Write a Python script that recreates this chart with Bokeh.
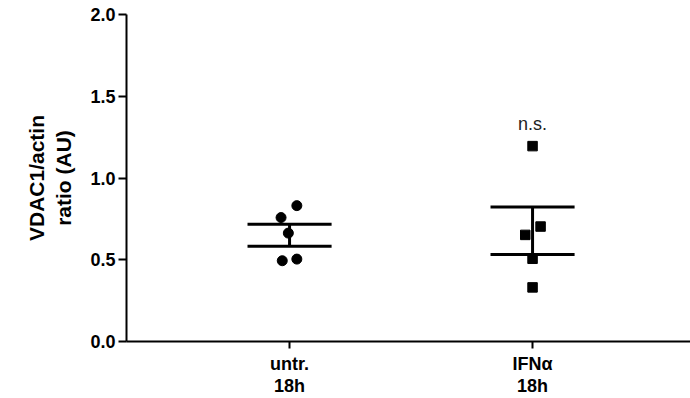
from bokeh.plotting import figure
from bokeh.models import FixedTicker, Range1d, Label
from bokeh.embed import file_html
from bokeh.resources import INLINE
import numpy as np

groups = ["untr.\n18h", "IFNα\n18h"]
group_pos = [1, 2]
untr_vals = [0.831, 0.758, 0.663, 0.494, 0.504]
untr_jit = [0.03, -0.035, -0.005, -0.03, 0.03]
ifn_vals = [1.195, 0.703, 0.652, 0.506, 0.331]
ifn_jit = [0.0, 0.033, -0.03, 0.0, 0.0]
y_ticks = [0.0, 0.5, 1.0, 1.5, 2.0]
annot_text = "n.s."
annot_y = 1.33

FONT = "Liberation Sans"

p = figure(width=690, height=398, output_backend="svg", toolbar_location=None,
           x_range=Range1d(0.329, 2.650), y_range=Range1d(0, 2.0),
           min_border_left=126, min_border_right=0, min_border_top=14, min_border_bottom=56)
p.outline_line_color = None
p.xgrid.visible = False
p.ygrid.visible = False

def sem(v):
    a = np.array(v)
    return a.std(ddof=1) / np.sqrt(len(a))

cap = 0.173
for xc, vals in zip(group_pos, [untr_vals, ifn_vals]):
    m = float(np.mean(vals)); s = float(sem(vals))
    p.segment(x0=[xc - cap, xc - cap, xc], y0=[m + s, m - s, m - s],
              x1=[xc + cap, xc + cap, xc], y1=[m + s, m - s, m + s],
              line_color="black", line_width=3)

p.scatter([group_pos[0] + j for j in untr_jit], untr_vals, marker="circle", size=10,
          fill_color="black", line_color="black")
p.scatter([group_pos[1] + j for j in ifn_jit], ifn_vals, marker="square", size=9.5,
          fill_color="black", line_color="black")

p.add_layout(Label(x=group_pos[1], y=annot_y, text=annot_text, text_align="center",
                   text_baseline="middle", text_font=FONT, text_font_size="18px",
                   text_color="#222222"))

for ax in (p.xaxis[0], p.yaxis[0]):
    ax.axis_line_width = 2
    ax.axis_line_color = "black"
    ax.major_tick_line_width = 2
    ax.major_tick_line_color = "black"
    ax.minor_tick_line_color = None
    ax.major_tick_in = 0
    ax.major_tick_out = 8
    ax.major_label_text_font = FONT
    ax.major_label_text_font_style = "bold"
    ax.major_label_text_font_size = "18px"
    ax.major_label_text_color = "black"

p.yaxis.ticker = FixedTicker(ticks=y_ticks)
p.yaxis.major_label_overrides = {t: f"{t:.1f}" for t in y_ticks}
p.yaxis.major_label_standoff = 3
p.yaxis.axis_label = "VDAC1/actin\nratio (AU)"
p.yaxis.axis_label_text_font = FONT
p.yaxis.axis_label_text_font_style = "bold"
p.yaxis.axis_label_text_font_size = "21px"
p.yaxis.axis_label_text_color = "black"
p.yaxis.axis_label_standoff = 12

p.xaxis.ticker = FixedTicker(ticks=group_pos)
p.xaxis.major_label_overrides = {gp: g for gp, g in zip(group_pos, groups)}
p.xaxis.major_tick_out = 7
p.xaxis.major_label_standoff = 5
p.xaxis.major_label_text_line_height = 1.1

open("out.html", "w").write(file_html(p, INLINE))
